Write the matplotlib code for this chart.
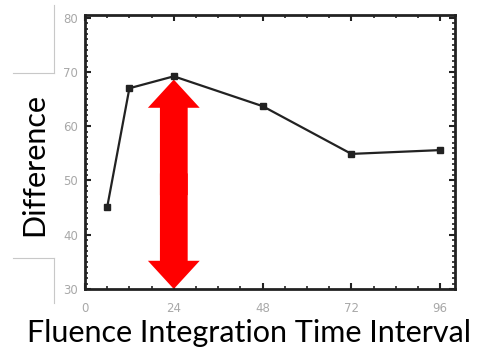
import matplotlib
matplotlib.use("Agg")
import matplotlib.pyplot as plt
from matplotlib.patches import FancyArrow
from matplotlib.lines import Line2D
from matplotlib.ticker import MultipleLocator

x_vals = [6, 12, 24, 48, 72, 96]
y_vals = [45.1, 67.0, 69.2, 63.7, 54.9, 55.6]
x_ticks = [0, 24, 48, 72, 96]
y_ticks = [30, 40, 50, 60, 70, 80]
arrow_x = 24
arrow_lo, arrow_hi = 30, 68.6

fig = plt.figure(figsize=(4.79, 3.51), dpi=100)
W, H = 479, 351
ax = fig.add_axes([85 / W, 1 - 289 / H, (455 - 85) / W, (289 - 15) / H])

ax.plot(x_vals, y_vals, color="#222222", lw=1.6, marker="s", ms=4.5, zorder=3)

mid = (arrow_lo + arrow_hi) / 2
ax.add_patch(FancyArrow(arrow_x, mid - 2, 0, arrow_hi - mid + 2, width=7.5, head_width=14,
                        head_length=5.2, length_includes_head=True,
                        color="#ff0000", lw=0, zorder=2))
ax.add_patch(FancyArrow(arrow_x, mid + 2, 0, arrow_lo - mid - 2, width=7.5, head_width=14,
                        head_length=5.2, length_includes_head=True,
                        color="#ff0000", lw=0, zorder=2))

ax.set_xlim(0, 100)
ax.set_ylim(30, 80.5)
ax.set_xticks(x_ticks)
ax.set_yticks(y_ticks)
ax.xaxis.set_minor_locator(MultipleLocator(6))
ax.yaxis.set_minor_locator(MultipleLocator(1))
ax.tick_params(which="both", direction="in", top=True, right=True, color="#222222")
ax.tick_params(which="major", length=4, width=1.5, labelsize=8.5, labelcolor="#a8a8a8")
ax.tick_params(axis="x", which="major", pad=9)
ax.tick_params(axis="y", which="major", pad=5)
ax.tick_params(which="minor", length=2.5, width=1.2)
for s in ax.spines.values():
    s.set_linewidth(2)
    s.set_color("#222222")

fig.text(27 / W, 1 - 333 / H, "Fluence Integration Time Interval", fontsize=22,
         family="Lato", ha="left", va="center", color="black")
fig.text(34 / W, 1 - 165 / H, "Difference", fontsize=22, family="Lato",
         rotation=90, ha="center", va="center", color="black")

gc = "#c8c8c8"
fig.add_artist(Line2D([54 / W, 54 / W], [1 - 5 / H, 1 - 73 / H], color=gc, lw=0.8))
fig.add_artist(Line2D([13 / W, 54 / W], [1 - 73 / H, 1 - 73 / H], color=gc, lw=0.8))
fig.add_artist(Line2D([13 / W, 54 / W], [1 - 258 / H, 1 - 258 / H], color=gc, lw=0.8))
fig.add_artist(Line2D([54 / W, 54 / W], [1 - 258 / H, 1 - 303 / H], color=gc, lw=0.8))

fig.savefig("out.png", dpi=100)
